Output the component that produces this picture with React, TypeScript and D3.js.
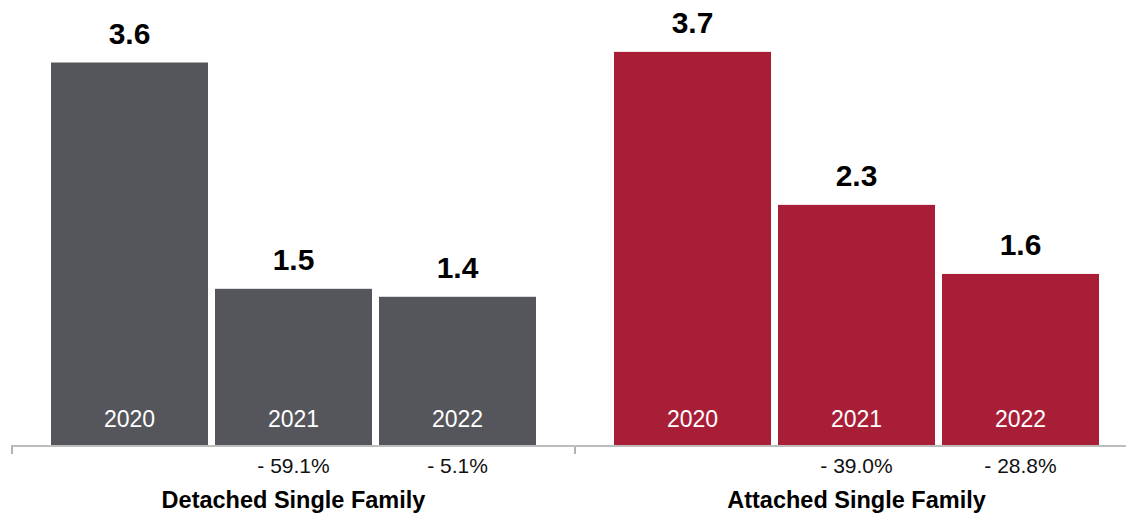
import React from "react";
import * as d3 from "d3";

const groups = ["Detached Single Family", "Attached Single Family"];
const years = ["2020", "2021", "2022"];
const detachedValues = [3.6, 1.47, 1.395];
const attachedValues = [3.7, 2.26, 1.61];
const detachedChanges: (number | null)[] = [null, -59.1, -5.1];
const attachedChanges: (number | null)[] = [null, -39.0, -28.8];
const groupColors = ["#55565b", "#a91e37"];

const W = 1126;
const H = 516;
const baseY = 445;
const FONT = "'Liberation Sans', Arial, Helvetica, sans-serif";

export default function App() {
  const x0 = d3.scaleBand<string>().domain(groups).range([12, 1138]).padding(0);
  const x1 = d3
    .scaleBand<string>()
    .domain(years)
    .range([39, 524])
    .paddingInner(7 / 164)
    .paddingOuter(0);
  const y = d3.scaleLinear().domain([0, 4]).range([baseY, 20]);
  const fmt = d3.format(".1f");

  const seriesValues = [detachedValues, attachedValues];
  const seriesChanges = [detachedChanges, attachedChanges];

  return (
    <svg
      width={W}
      height={H}
      style={{ position: "absolute", left: 0, top: 0, background: "#fff" }}
      fontFamily={FONT}
    >
      {groups.map((g, gi) => {
        const gx = x0(g)!;
        const bw = x1.bandwidth();
        return (
          <g key={g}>
            {years.map((yr, i) => {
              const v = seriesValues[gi][i];
              const bx = gx + x1(yr)!;
              const cx = bx + bw / 2;
              const ch = seriesChanges[gi][i];
              return (
                <g key={yr}>
                  <rect
                    x={bx}
                    y={y(v)}
                    width={bw}
                    height={baseY - y(v)}
                    fill={groupColors[gi]}
                  />
                  <text
                    x={cx}
                    y={y(v) - 19}
                    textAnchor="middle"
                    fontSize={30}
                    fontWeight="bold"
                    fill="#000"
                  >
                    {fmt(v)}
                  </text>
                  <text
                    x={cx}
                    y={baseY - 18}
                    textAnchor="middle"
                    fontSize={23}
                    fill="#fff"
                  >
                    {yr}
                  </text>
                  {ch !== null && (
                    <text
                      x={cx}
                      y={473}
                      textAnchor="middle"
                      fontSize={21}
                      fill="#111"
                    >
                      {`- ${Math.abs(ch).toFixed(1)}%`}
                    </text>
                  )}
                </g>
              );
            })}
            <text
              x={gx + x0.bandwidth() / 2}
              y={508}
              textAnchor="middle"
              fontSize={23.5}
              fontWeight="bold"
              fill="#000"
            >
              {g}
            </text>
            <line
              x1={gx}
              x2={gx}
              y1={baseY}
              y2={454}
              stroke="#9a9a9a"
              strokeWidth={1.5}
            />
          </g>
        );
      })}
      <line
        x1={x0.range()[0]}
        x2={W}
        y1={baseY + 1}
        y2={baseY + 1}
        stroke="#bdbdbd"
        strokeWidth={2}
      />
    </svg>
  );
}
